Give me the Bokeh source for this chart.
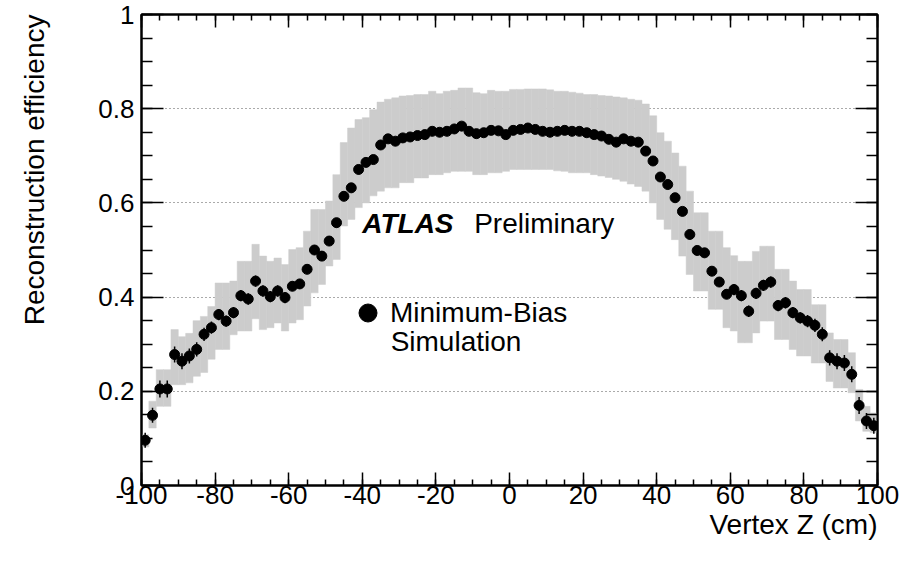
import numpy as np
from bokeh.plotting import figure
from bokeh.models import (FixedTicker, LinearAxis, Label, Title, Range1d,
                          CustomJSTickFormatter, Legend, LegendItem, ColumnDataSource,
                          CustomLabelingPolicy)
from bokeh.embed import file_html
from bokeh.resources import INLINE

# ---------------- data ----------------
# bin centres (2 cm bins from -100 to 100 cm)
vertex_z = list(range(-99, 100, 2))

efficiency = [
    0.096, 0.149, 0.205, 0.205, 0.278, 0.264, 0.275, 0.289, 0.321, 0.335,
    0.363, 0.349, 0.367, 0.403, 0.396, 0.434, 0.413, 0.401, 0.413, 0.399,
    0.423, 0.428, 0.459, 0.500, 0.487, 0.519, 0.558, 0.614, 0.632, 0.671,
    0.686, 0.692, 0.723, 0.736, 0.731, 0.738, 0.740, 0.743, 0.745, 0.752,
    0.750, 0.752, 0.757, 0.763, 0.752, 0.747, 0.749, 0.754, 0.753, 0.745,
    0.754, 0.756, 0.759, 0.756, 0.752, 0.750, 0.752, 0.754, 0.752, 0.752,
    0.749, 0.745, 0.742, 0.735, 0.729, 0.736, 0.731, 0.729, 0.710, 0.689,
    0.655, 0.639, 0.611, 0.582, 0.533, 0.499, 0.494, 0.455, 0.432, 0.406,
    0.416, 0.403, 0.370, 0.408, 0.425, 0.432, 0.382, 0.388, 0.367, 0.356,
    0.349, 0.340, 0.321, 0.271, 0.264, 0.260, 0.236, 0.170, 0.137, 0.127,
]

stat_error = [
    0.016, 0.016, 0.018, 0.018, 0.017, 0.017, 0.016, 0.015, 0.014, 0.013,
    0.012, 0.012, 0.012, 0.012, 0.012, 0.012, 0.012, 0.012, 0.012, 0.012,
    0.010, 0.010, 0.010, 0.010, 0.010, 0.010, 0.010, 0.010, 0.010, 0.010,
    0.008, 0.008, 0.008, 0.008, 0.008, 0.008, 0.008, 0.008, 0.008, 0.008,
    0.008, 0.008, 0.008, 0.008, 0.008, 0.008, 0.008, 0.008, 0.008, 0.008,
    0.008, 0.008, 0.008, 0.008, 0.008, 0.008, 0.008, 0.008, 0.008, 0.008,
    0.008, 0.008, 0.008, 0.008, 0.008, 0.008, 0.008, 0.008, 0.008, 0.008,
    0.010, 0.010, 0.010, 0.010, 0.010, 0.010, 0.010, 0.010, 0.010, 0.010,
    0.012, 0.012, 0.012, 0.012, 0.012, 0.012, 0.012, 0.012, 0.012, 0.012,
    0.013, 0.014, 0.015, 0.016, 0.017, 0.017, 0.017, 0.018, 0.017, 0.017,
]

syst_low = [
    0.082, 0.122, 0.168, 0.168, 0.214, 0.214, 0.218, 0.232, 0.240, 0.268,
    0.289, 0.289, 0.320, 0.328, 0.328, 0.354, 0.331, 0.335, 0.345, 0.328,
    0.345, 0.352, 0.381, 0.409, 0.427, 0.466, 0.480, 0.551, 0.565, 0.590,
    0.600, 0.615, 0.625, 0.632, 0.632, 0.643, 0.643, 0.653, 0.653, 0.660,
    0.660, 0.664, 0.667, 0.667, 0.667, 0.660, 0.660, 0.664, 0.664, 0.667,
    0.671, 0.671, 0.671, 0.671, 0.671, 0.671, 0.668, 0.667, 0.664, 0.664,
    0.664, 0.660, 0.657, 0.654, 0.650, 0.646, 0.640, 0.635, 0.625, 0.600,
    0.565, 0.544, 0.522, 0.487, 0.448, 0.413, 0.413, 0.374, 0.374, 0.335,
    0.328, 0.303, 0.303, 0.324, 0.349, 0.349, 0.310, 0.310, 0.289, 0.275,
    0.275, 0.260, 0.260, 0.221, 0.207, 0.207, 0.197, 0.137, 0.115, 0.112,
]

syst_high = [
    0.108, 0.179, 0.246, 0.246, 0.331, 0.316, 0.323, 0.350, 0.359, 0.380,
    0.430, 0.430, 0.434, 0.476, 0.476, 0.512, 0.487, 0.476, 0.483, 0.469,
    0.501, 0.505, 0.540, 0.586, 0.586, 0.604, 0.660, 0.728, 0.759, 0.777,
    0.781, 0.798, 0.814, 0.820, 0.823, 0.827, 0.828, 0.830, 0.830, 0.837,
    0.832, 0.837, 0.839, 0.844, 0.844, 0.834, 0.832, 0.839, 0.837, 0.837,
    0.841, 0.841, 0.842, 0.842, 0.842, 0.840, 0.837, 0.837, 0.835, 0.833,
    0.830, 0.830, 0.828, 0.827, 0.825, 0.823, 0.820, 0.818, 0.810, 0.785,
    0.749, 0.731, 0.706, 0.678, 0.625, 0.579, 0.579, 0.540, 0.540, 0.505,
    0.488, 0.476, 0.476, 0.497, 0.508, 0.508, 0.459, 0.459, 0.434, 0.416,
    0.416, 0.384, 0.384, 0.324, 0.310, 0.310, 0.282, 0.204, 0.168, 0.154,
]

bin_width = 2.0
x_major = [-100, -80, -60, -40, -20, 0, 20, 40, 60, 80, 100]
y_major = [0, 0.2, 0.4, 0.6, 0.8, 1.0]

# ---------------- figure ----------------
FONT = "Liberation Sans"

xa = np.array(vertex_z, dtype=float)
ya = np.array(efficiency)
ea = np.array(stat_error)
src = ColumnDataSource(dict(
    x=xa, y=ya,
    left=xa - bin_width / 2, right=xa + bin_width / 2,
    lo=np.array(syst_low), hi=np.array(syst_high),
    ylo=ya - ea, yhi=ya + ea,
))

p = figure(width=910, height=566, output_backend="svg", toolbar_location=None,
           x_range=Range1d(-100, 100), y_range=Range1d(0, 1),
           min_border_left=141, min_border_right=33,
           min_border_top=14, min_border_bottom=81)
p.title.visible = False
p.background_fill_color = "white"
p.border_fill_color = "white"
p.outline_line_color = "black"
p.outline_line_width = 2

xt = FixedTicker(ticks=x_major, minor_ticks=list(range(-100, 101, 5)))
yt = FixedTicker(ticks=y_major, minor_ticks=[round(0.05 * i, 2) for i in range(21)])
yfmt = CustomJSTickFormatter(code="return tick.toFixed(1).replace(/\\.0$/, '');")
xfmt = CustomJSTickFormatter(code="return tick.toFixed(0);")

for ax in p.xaxis:
    ax.ticker = xt
    ax.formatter = xfmt
    ax.major_tick_in = 13
    ax.major_tick_out = 0
    ax.minor_tick_in = 6
    ax.minor_tick_out = 0
    ax.axis_line_width = 2
    ax.major_tick_line_width = 1.5
    ax.minor_tick_line_width = 1.5
    ax.major_label_text_font = FONT
    ax.major_label_text_font_size = "26px"
    ax.major_label_text_color = "black"
    ax.major_label_standoff = 0
for ax in p.yaxis:
    ax.ticker = yt
    ax.formatter = yfmt
    ax.major_tick_in = 22
    ax.major_tick_out = 0
    ax.minor_tick_in = 11
    ax.minor_tick_out = 0
    ax.axis_line_width = 2
    ax.major_tick_line_width = 1.5
    ax.minor_tick_line_width = 1.5
    ax.major_label_text_font = FONT
    ax.major_label_text_font_size = "26px"
    ax.major_label_text_color = "black"
    ax.major_label_standoff = 7

# mirror axes (ticks only, no labels) on top and right
no_labels = CustomLabelingPolicy(
    code="const n = indices.size; for (let i = 0; i < n; i++) { indices.unset(i) } return indices")
top_ax = LinearAxis(ticker=xt, major_tick_in=13, major_tick_out=0,
                    minor_tick_in=6, minor_tick_out=0, axis_line_width=2,
                    major_tick_line_width=1.5, minor_tick_line_width=1.5,
                    major_label_policy=no_labels,
                    major_label_text_font_size="1px", major_label_standoff=0)
right_ax = LinearAxis(ticker=yt, major_tick_in=22, major_tick_out=0,
                      minor_tick_in=11, minor_tick_out=0, axis_line_width=2,
                      major_tick_line_width=1.5, minor_tick_line_width=1.5,
                      major_label_policy=no_labels,
                      major_label_text_font_size="1px", major_label_standoff=0)
p.add_layout(top_ax, "above")
p.add_layout(right_ax, "right")

# invisible spacer between the y tick labels and the y title
spacer_ax = LinearAxis(ticker=yt, major_tick_in=0, major_tick_out=42,
                       minor_tick_in=0, minor_tick_out=0,
                       axis_line_color=None, major_tick_line_color=None,
                       minor_tick_line_color=None,
                       major_label_policy=no_labels,
                       major_label_text_font_size="1px", major_label_standoff=0)
p.add_layout(spacer_ax, "left")

p.xgrid.visible = False
p.ygrid.ticker = FixedTicker(ticks=[0.2, 0.4, 0.6, 0.8])
p.ygrid.grid_line_color = "#555555"
p.ygrid.grid_line_dash = "1 3"
p.ygrid.grid_line_width = 1

# axis titles (ROOT style: aligned to the axis ends)
tx = Title(text="Vertex Z (cm)", align="right", text_font=FONT, standoff=0,
           text_font_size="28px", text_font_style="normal", text_color="black")
p.add_layout(tx, "below")
ty = Title(text="Reconstruction efficiency", align="right", standoff=0,
           text_font=FONT, text_font_size="28px", text_font_style="normal",
           text_color="black")
p.add_layout(ty, "left")

# systematic band
p.quad(left="left", right="right", bottom="lo", top="hi", source=src,
       fill_color="#cccccc", line_color="#cccccc", line_width=0.5)
# stat error bars
p.segment(x0="x", y0="ylo", x1="x", y1="yhi", source=src,
          line_color="black", line_width=1.5)
# points
pts = p.scatter(x="x", y="y", source=src, size=10, marker="circle",
                fill_color="black", line_color="black")

# text
p.add_layout(Label(x=-40.0, y=0.556, text="ATLAS", text_font=FONT,
                   text_font_size="28px", text_font_style="bold italic",
                   text_baseline="middle", text_color="black"))
p.add_layout(Label(x=-9.6, y=0.556, text="Preliminary", text_font=FONT,
                   text_font_size="28px", text_baseline="middle",
                   text_color="black"))

leg = Legend(items=[LegendItem(label="Minimum-Bias", renderers=[pts])],
             location=(204, 150), border_line_color=None,
             background_fill_alpha=0, padding=0, margin=0,
             glyph_width=45, glyph_height=45, label_standoff=0,
             label_text_font=FONT, label_text_font_size="28px",
             label_text_color="black")
p.add_layout(leg, "center")
p.add_layout(Label(x=-32.3, y=0.306, text="Simulation", text_font=FONT,
                   text_font_size="28px", text_baseline="middle",
                   text_color="black"))

open("out.html", "w").write(file_html(p, INLINE))
